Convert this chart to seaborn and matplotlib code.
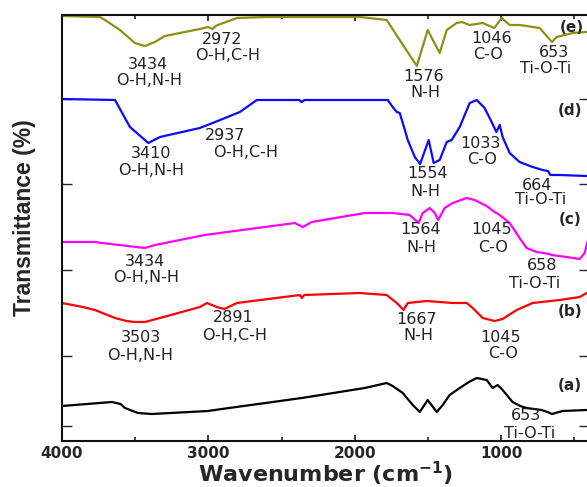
import matplotlib
matplotlib.use("Agg")
import matplotlib.pyplot as plt
import seaborn as sns
import pandas as pd

# FTIR spectra, wavenumber (cm^-1) and offset transmittance for each sample
wn_a = [4000, 3659, 3600, 3570, 3481, 3386, 3003, 2908, 2362, 1932, 1782, 1741, 1672, 1604,
        1556, 1502, 1440, 1399, 1352, 1283, 1220, 1167, 1099, 1058, 1024, 990, 922, 870, 826, 724,
        683, 653, 580, 416, 400]
tr_a = [35, 39, 37, 33, 28, 27, 30, 32, 43, 53, 58, 55, 48, 36,
        29, 41, 29, 36, 46, 53, 59, 63, 61, 53, 56, 51, 39, 35, 33, 31,
        29, 27, 30, 31, 31]

wn_b = [4000, 3857, 3775, 3638, 3560, 3503, 3433, 3331, 3058, 3010, 2942, 2891, 2805,
        2375, 2362, 2345, 1966, 1782, 1713, 1667, 1638, 1509, 1331, 1235, 1195, 1126,
        1045, 990, 894, 785, 601, 464, 416, 400]
tr_b = [138, 134, 131, 123, 120, 119, 119, 123, 134, 138, 134, 132, 138,
        146, 143, 146, 148, 146, 138, 131, 138, 140, 138, 138, 133, 123,
        120, 122, 131, 138, 141, 144, 148, 148]

wn_c = [4000, 3775, 3727, 3434, 3365, 3024, 2410, 2355, 2294, 1932, 1741, 1625, 1564,
        1536, 1488, 1454, 1430, 1386, 1331, 1236, 1181, 1099, 1045, 1010, 942, 874, 826,
        758, 669, 658, 553, 464, 430, 400]
tr_c = [199, 199, 198, 193, 196, 206, 218, 214, 219, 228, 228, 226, 218,
        228, 233, 228, 221, 233, 238, 243, 241, 235, 229, 226, 218, 203, 193,
        189, 187, 186, 184, 182, 188, 205]

wn_d = [4000, 3638, 3536, 3410, 3331, 3058, 2937, 2785, 2669, 2380, 2362, 2345, 1775,
        1741, 1713, 1693, 1672, 1638, 1590, 1554, 1495, 1461, 1420, 1372, 1338, 1283,
        1215, 1167, 1113, 1065, 1033, 1010, 990, 942, 874, 785, 717, 680, 664, 601, 416, 400]
tr_d = [342, 341, 314, 298, 304, 313, 320, 329, 341, 341, 339, 341, 341,
        334, 329, 328, 318, 301, 284, 277, 301, 278, 281, 299, 301, 314,
        338, 341, 333, 319, 309, 316, 304, 288, 279, 274, 271, 270, 266, 266, 265, 265]

wn_e = [4000, 3741, 3706, 3604, 3502, 3434, 3365, 3297, 3195, 3058, 3003, 2972, 2950,
        2935, 2805, 2601, 1966, 1782, 1693, 1576, 1502, 1420, 1372, 1304, 1270, 1215,
        1126, 1046, 997, 942, 874, 737, 653, 621, 512, 416, 400]
tr_e = [425, 424, 421, 411, 398, 395, 399, 405, 408, 412, 414, 412, 415,
        416, 423, 424, 424, 421, 401, 375, 411, 388, 411, 418, 419, 416,
        418, 413, 423, 416, 416, 413, 399, 404, 408, 409, 409]

sample_labels = ["(a)", "(b)", "(c)", "(d)", "(e)"]
line_colors = ["#000000", "#ff0000", "#ff00ff", "#0a0aff", "#8f8f14"]

# peak annotations: (wavenumber, value, text)
peak_notes = [
    # (e)
    (3413, 377, "3434"), (3406, 361, "O-H,N-H"),
    (2907, 402, "2972"), (2866, 386, "O-H,C-H"),
    (1527, 365, "1576"), (1520, 349, "N-H"),
    (1069, 403, "1046"), (1090, 387, "C-O"),
    (639, 389, "653"), (694, 373, "Ti-O-Ti"),
    # (d)
    (3392, 288, "3410"), (3392, 271, "O-H,N-H"),
    (2887, 306, "2937"), (2743, 289, "O-H,C-H"),
    (1500, 268, "1554"), (1520, 249, "N-H"),
    (1145, 298, "1033"), (1131, 282, "C-O"),
    (755, 256, "664"), (728, 241, "Ti-O-Ti"),
    # (c)
    (3433, 179, "3434"), (3426, 164, "O-H,N-H"),
    (1554, 211, "1564"), (1548, 194, "N-H"),
    (1063, 211, "1045"), (1056, 194, "C-O"),
    (721, 176, "658"), (769, 158, "Ti-O-Ti"),
    # (b)
    (3460, 103, "3503"), (3467, 86, "O-H,N-H"),
    (2832, 123, "2891"), (2818, 106, "O-H,C-H"),
    (1575, 122, "1667"), (1568, 106, "N-H"),
    (1001, 104, "1045"), (987, 88, "C-O"),
    # (a)
    (830, 26, "653"), (803, 8, "Ti-O-Ti"),
]
sample_label_pos = [(530, 55), (530, 129), (530, 221), (530, 331), (516, 414)]

frames = []
for lab, wn, tr in zip(sample_labels,
                       [wn_a, wn_b, wn_c, wn_d, wn_e],
                       [tr_a, tr_b, tr_c, tr_d, tr_e]):
    frames.append(pd.DataFrame({"wavenumber": wn, "transmittance": tr, "sample": lab}))
df = pd.concat(frames, ignore_index=True)

sns.set_style("ticks")
plt.rcParams["font.family"] = ["DejaVu Sans"]

fig = plt.figure(figsize=(5.87, 4.87), dpi=100)
ax = fig.add_axes([62 / 587, 46 / 487, 527 / 587, 426 / 487])

sns.lineplot(data=df, x="wavenumber", y="transmittance", hue="sample",
             palette=dict(zip(sample_labels, line_colors)), estimator=None,
             sort=False, linewidth=1.6, legend=False, ax=ax)

ax.set_xlim(4000, 400)
ax.set_ylim(0, 426)
ax.set_xticks([4000, 3000, 2000, 1000])
ax.set_xticks([3500, 2500, 1500, 500], minor=True)
ax.set_yticks([15, 85, 171, 257, 342])
ax.set_yticklabels([])
ax.tick_params(axis="x", which="major", direction="in", length=4.5, width=1.3,
               top=True, labelsize=11, pad=3.5)
ax.tick_params(axis="x", which="minor", direction="in", length=3, width=1.2, top=True)
ax.tick_params(axis="y", which="major", direction="in", length=7, width=1.0, right=True)
for lbl in ax.get_xticklabels():
    lbl.set_fontweight("bold")
for sp in ax.spines.values():
    sp.set_linewidth(1.5)
    sp.set_color("#111111")

ax.set_xlabel("Wavenumber (cm$^{\\mathbf{-1}}$)", fontsize=16, fontweight="bold")
ax.xaxis.label.set_va("baseline")
ax.xaxis.set_label_coords(0.5, -0.0962)
ax.set_ylabel("Transmittance (%)", fontsize=16.5, fontweight="bold",
              family=["Liberation Sans", "DejaVu Sans"])
ax.yaxis.set_label_coords(-0.05, 0.525)

for x, y, t in peak_notes:
    ax.text(x, y, t, ha="center", va="center", fontsize=11.5, color="#222222")
for (x, y), lab in zip(sample_label_pos, sample_labels):
    ax.text(x, y, lab, ha="center", va="center", fontsize=11, fontweight="bold")

fig.savefig("out.png", dpi=100)
